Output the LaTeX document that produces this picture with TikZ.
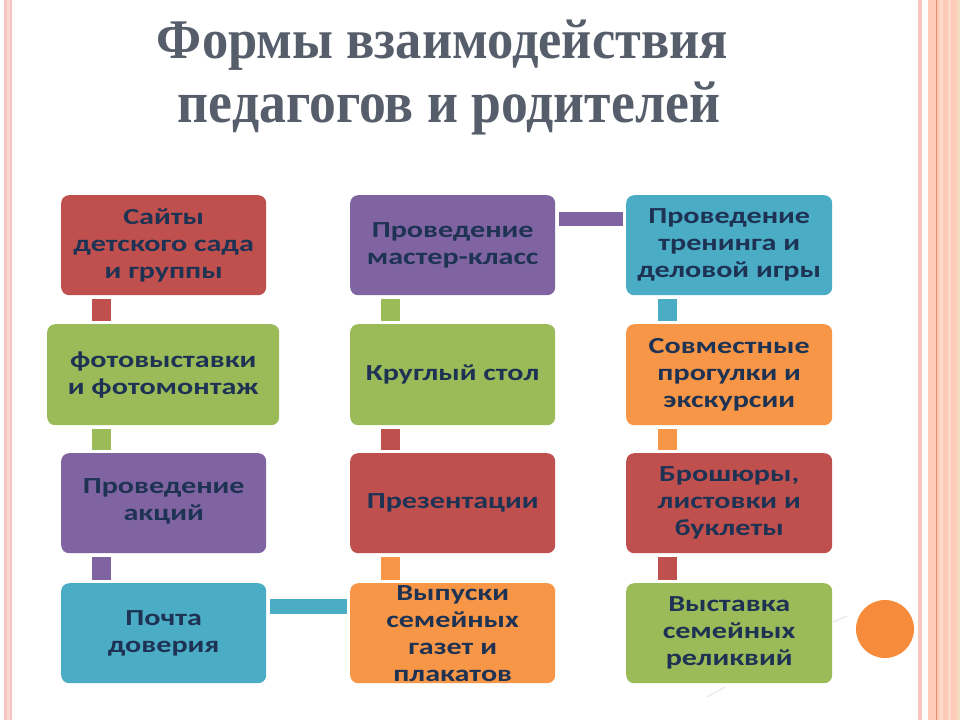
\documentclass[tikz,border=0pt]{standalone}
\usepackage{fontspec}
\usepackage{graphicx}
\setmainfont{Liberation Serif}
\newfontfamily\boxfont{Carlito}[FakeStretch=1.31]
\newfontfamily\titlefont{Liberation Serif}
\definecolor{cR}{HTML}{C0504D}
\definecolor{cG}{HTML}{9BBB59}
\definecolor{cP}{HTML}{8064A2}
\definecolor{cC}{HTML}{4BACC6}
\definecolor{cO}{HTML}{F79646}
\definecolor{navy}{HTML}{1E3354}
\definecolor{titlegray}{HTML}{575E6B}
\definecolor{lpink}{HTML}{F7C4BF}
\definecolor{llight}{HTML}{FAD8D4}
\definecolor{rpink}{HTML}{F9C6BD}
\definecolor{peach}{HTML}{FDCBB8}
\definecolor{peachdark}{HTML}{DE8C72}
\definecolor{peachlight}{HTML}{FEDACB}
\definecolor{tanc}{HTML}{F2DCC4}
\definecolor{circ}{HTML}{F68B3B}
\begin{document}
\begin{tikzpicture}[x=1pt,y=-1pt,
  box/.style={rounded corners=8pt, minimum height=100pt, inner sep=0pt, anchor=north west},
  txt/.style={inner sep=0pt, align=center, text=navy, font=\boxfont\bfseries\fontsize{23}{27}\selectfont},
  vbar/.style={line width=19pt, shorten <=3.5pt, shorten >=3.5pt},
  hbar/.style={line width=14.5pt, shorten <=3.5pt, shorten >=3.5pt},
  ttl/.style={anchor=base, inner sep=0pt, text=titlegray}]
\fill[white] (0,0) rectangle (960,720);
\useasboundingbox (0,0) rectangle (960,720);
% side stripes
\fill[lpink] (4,0) rectangle (12,720);
\fill[llight] (6.5,0) rectangle (9.5,720);
\fill[rpink] (917.5,0) rectangle (922,720);
\fill[peach] (928,0) rectangle (960,720);
\fill[peachdark] (935.8,0) rectangle (936.8,720);
\fill[peachlight] (940,0) rectangle (943,720);
\fill[peachlight] (948,0) rectangle (951,720);
\fill[tanc] (957,0) rectangle (960,720);
% title
\node[ttl, font=\titlefont\bfseries\fontsize{56}{56}\selectfont] (t1) at (442.5,58) {\resizebox{571pt}{\height}{Формы взаимодействия}};
\node[ttl, font=\titlefont\bfseries\fontsize{59}{59}\selectfont] (t2) at (449,122) {\resizebox{542pt}{\height}{педагогов и родителей}};
% boxes
\node[box, fill=cR, minimum width=205pt] (a1) at (61,195) {};
\node[box, fill=cG, minimum width=232pt, minimum height=101pt] (a2) at (47,324) {};
\node[box, fill=cP, minimum width=205pt] (a3) at (61,453) {};
\node[box, fill=cC, minimum width=205pt] (a4) at (61,583) {};
\node[box, fill=cP, minimum width=205pt] (b1) at (350,195) {};
\node[box, fill=cG, minimum width=205pt, minimum height=101pt] (b2) at (350,324) {};
\node[box, fill=cR, minimum width=205pt] (b3) at (350,453) {};
\node[box, fill=cO, minimum width=205pt] (b4) at (350,583) {};
\node[box, fill=cC, minimum width=206pt] (c1) at (626,195) {};
\node[box, fill=cO, minimum width=206pt, minimum height=101pt] (c2) at (626,324) {};
\node[box, fill=cR, minimum width=206pt] (c3) at (626,453) {};
\node[box, fill=cG, minimum width=206pt] (c4) at (626,583) {};
% texts
\node[txt] (ta1) at (a1.center) {Сайты\\детского сада\\и группы};
\node[txt] (ta2) at (a2.center) {фотовыставки\\и фотомонтаж};
\node[txt] (ta3) at ([yshift=2pt]a3.center) {Проведение\\акций};
\node[txt] (ta4) at (a4.center) {Почта\\доверия};
\node[txt] (tb1) at (b1.center) {Проведение\\мастер-класс};
\node[txt] (tb2) at (b2.center) {Круглый стол};
\node[txt] (tb3) at (b3.center) {Презентации};
\node[txt] (tb4) at (b4.center) {Выпуски\\семейных\\газет и\\плакатов};
\node[txt] (tc1) at (c1.center) {Проведение\\тренинга и\\деловой игры};
\node[txt] (tc2) at (c2.center) {Совместные\\прогулки и\\экскурсии};
\node[txt] (tc3) at (c3.center) {Брошюры,\\листовки и\\буклеты};
\node[txt] (tc4) at (c4.center) {Выставка\\семейных\\реликвий};
% connector anchor points
\coordinate (pa1) at ([xshift=40.5pt]a1.south west);
\coordinate (pa3n) at ([xshift=40.5pt]a3.north west);
\coordinate (pa3s) at ([xshift=40.5pt]a3.south west);
\coordinate (pa4) at ([yshift=-23.5pt]a4.north east);
\coordinate (pb4) at ([xshift=40.5pt]b4.north west);
\coordinate (pb3) at ([xshift=40.5pt]b3.north west);
\coordinate (pb2) at ([xshift=40.5pt]b2.north west);
\coordinate (pb1) at ([yshift=-24pt]b1.north east);
\coordinate (pc1) at ([xshift=41.5pt]c1.south west);
\coordinate (pc2) at ([xshift=41.5pt]c2.south west);
\coordinate (pc3) at ([xshift=41.5pt]c3.south west);
% connectors
\draw[vbar, draw=cR] (pa1) -- (pa1 |- a2.north);
\draw[vbar, draw=cG] (pa3n |- a2.south) -- (pa3n);
\draw[vbar, draw=cP] (pa3s) -- (pa3s |- a4.north);
\draw[hbar, draw=cC] (pa4) -- (pa4 -| b4.west);
\draw[vbar, draw=cO] (pb4) -- (pb4 |- b3.south);
\draw[vbar, draw=cR] (pb3) -- (pb3 |- b2.south);
\draw[vbar, draw=cG] (pb2) -- (pb2 |- b1.south);
\draw[hbar, draw=cP] (pb1) -- (pb1 -| c1.west);
\draw[vbar, draw=cC] (pc1) -- (pc1 |- c2.north);
\draw[vbar, draw=cO] (pc2) -- (pc2 |- c3.north);
\draw[vbar, draw=cR] (pc3) -- (pc3 |- c4.north);
% decoration
\fill[circ] (885,629) circle (29pt);
\draw[black!12, line width=0.8pt] (833,622) -- (847,616);
\draw[black!12, line width=0.8pt] (707,697) -- (725,687);
\end{tikzpicture}
\end{document}
